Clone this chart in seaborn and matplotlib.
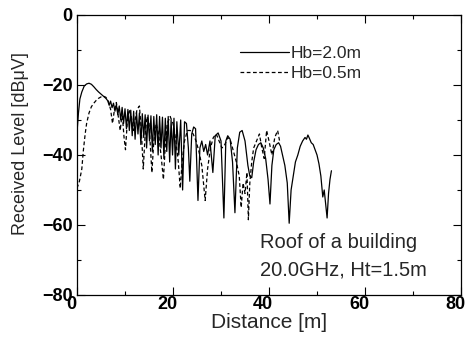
import numpy as np
import pandas as pd
import matplotlib
matplotlib.use("Agg")
import matplotlib.pyplot as plt
import matplotlib.transforms as mtransforms
import seaborn as sns

# ---------------------------------------------------------------
# Data
# ---------------------------------------------------------------
# Hb = 2.0 m (solid)
dist_hb20 = [0.0, 0.3, 0.6, 1.0, 1.5, 2.0, 2.5, 3.0, 3.5, 4.0, 4.5, 5.0, 5.5, 6.0,
             6.4, 6.7, 7.0, 7.3, 7.6, 7.9, 8.2, 8.5, 8.8, 9.1, 9.4, 9.7, 10.0, 10.3,
             10.6, 10.9, 11.2, 11.5, 11.8, 12.1, 12.4, 12.7, 13.0, 13.3, 13.6, 13.9,
             14.2, 14.5, 14.8, 15.1, 15.4, 15.7, 16.0, 16.3, 16.6, 16.9, 17.2, 17.5,
             17.8, 18.1, 18.4, 18.7, 19.0, 19.3, 19.6, 19.9, 20.2, 20.5, 20.8, 21.2,
             21.6, 22.0, 22.4, 22.8, 23.2, 23.5, 23.9, 24.3, 24.7, 25.2, 25.6, 26.0,
             26.4, 26.8, 27.2, 27.7, 28.3, 28.8, 29.4, 30.0, 30.6, 31.0, 31.4, 31.9,
             32.4, 32.9, 33.4, 33.9, 34.4, 35.0, 35.6, 36.0, 36.4, 36.8, 37.3, 37.8,
             38.3, 38.8, 39.3, 39.8, 40.2, 40.6, 41.0, 41.5, 42.0, 42.4, 42.8, 43.3,
             43.8, 44.2, 44.6, 45.0, 45.5, 46.0, 46.5, 47.0, 47.5, 47.8, 48.1, 48.4,
             48.8, 49.2, 49.6, 50.0, 50.4, 50.8, 51.2, 51.5, 51.8, 52.1, 52.4, 52.7,
             53.0]
level_hb20 = [-33.5, -28.0, -24.0, -22.0, -20.3, -19.7, -19.5, -19.8, -20.5, -21.3,
              -22.0, -22.6, -23.2, -23.8, -24.5, -25.8, -24.6, -26.5, -25.2, -27.5,
              -25.6, -28.5, -26.0, -30.0, -26.4, -31.0, -26.8, -32.5, -27.0, -33.0,
              -27.2, -34.5, -27.5, -35.5, -27.8, -34.0, -28.0, -37.0, -28.2, -35.0,
              -28.5, -38.0, -28.6, -36.0, -28.8, -39.0, -29.0, -37.0, -28.5, -40.0,
              -29.0, -38.0, -29.2, -41.0, -29.5, -39.0, -29.0, -42.0, -30.0, -40.0,
              -29.5, -44.0, -30.5, -40.0, -30.0, -50.0, -30.5, -31.0, -38.0, -47.5,
              -34.0, -32.0, -32.5, -53.0, -38.0, -36.0, -39.0, -37.0, -40.0, -36.0,
              -45.0, -34.5, -33.7, -36.0, -58.0, -36.0, -34.5, -35.5, -42.0, -56.5,
              -38.0, -33.5, -33.0, -36.0, -43.0, -46.0, -46.5, -42.0, -38.5, -37.0,
              -36.5, -38.0, -41.0, -47.0, -54.0, -43.0, -38.5, -37.0, -36.5, -37.5,
              -40.0, -43.0, -48.0, -59.5, -50.0, -46.5, -42.0, -40.0, -37.5, -36.0,
              -35.0, -35.5, -34.3, -35.2, -36.5, -37.0, -38.5, -40.0, -42.5, -46.0,
              -52.0, -50.0, -54.0, -58.0, -51.0, -47.0, -44.5]

# Hb = 0.5 m (dashed)
dist_hb05 = [0.0, 0.5, 1.0, 1.3, 1.7, 2.0, 2.5, 3.0, 3.5, 4.0, 4.5, 5.0, 5.5, 6.0,
             6.5, 7.0, 7.4, 7.8, 8.2, 8.6, 9.0, 9.4, 9.8, 10.1, 10.5, 10.9, 11.3,
             11.7, 12.1, 12.5, 13.0, 13.4, 13.8, 14.2, 14.6, 15.0, 15.3, 15.6, 16.0,
             16.5, 17.0, 17.5, 18.0, 18.4, 18.8, 19.4, 20.0, 20.6, 21.1, 21.5, 21.9,
             22.4, 23.0, 23.6, 24.2, 24.8, 25.4, 26.0, 26.7, 27.2, 27.8, 28.4, 29.0,
             29.6, 30.2, 30.8, 31.4, 32.0, 32.6, 33.2, 33.8, 34.2, 34.6, 35.0, 35.4,
             35.7, 36.0, 36.4, 36.8, 37.4, 38.0, 38.5, 39.0, 39.5, 40.0, 40.6, 41.2,
             41.8, 42.2]
level_hb05 = [-49.5, -47.5, -44.0, -39.0, -34.0, -31.0, -28.0, -26.2, -25.2, -24.4,
              -23.8, -23.4, -23.2, -23.5, -24.5, -27.0, -31.0, -27.0, -25.0, -29.0,
              -33.0, -28.0, -35.0, -38.5, -30.0, -27.0, -29.0, -33.0, -30.0, -27.0,
              -26.0, -33.0, -44.0, -34.0, -29.0, -31.0, -38.0, -45.0, -36.0, -31.0,
              -34.0, -40.0, -47.0, -37.0, -31.0, -29.0, -31.0, -36.0, -42.0, -49.5,
              -42.0, -36.0, -33.0, -33.0, -34.0, -36.0, -39.0, -43.0, -53.0, -44.0,
              -38.0, -35.0, -34.0, -36.0, -38.0, -37.0, -35.0, -36.0, -39.0, -42.0,
              -46.0, -55.0, -48.0, -51.0, -45.0, -58.5, -48.0, -42.0, -38.0, -36.0,
              -34.0, -38.0, -41.0, -33.0, -36.0, -40.0, -35.0, -33.0, -36.0]

df_20 = pd.DataFrame({"Distance": dist_hb20, "Level": level_hb20})
df_05 = pd.DataFrame({"Distance": dist_hb05, "Level": level_hb05})

# ---------------------------------------------------------------
# Plot
# ---------------------------------------------------------------
sns.set_theme(style="ticks")
plt.rcParams['font.family'] = ['Liberation Sans', 'DejaVu Sans']
plt.rcParams['axes.unicode_minus'] = True

fig = plt.figure(figsize=(4.67, 3.47), dpi=100)
ax = fig.add_axes([0.1649, 0.1499, 0.8223, 0.8069])

sns.lineplot(data=df_20, x="Distance", y="Level", ax=ax, color="black",
             linewidth=0.9, sort=False, estimator=None, label="Hb=2.0m")
sns.lineplot(data=df_05, x="Distance", y="Level", ax=ax, color="black",
             linewidth=0.9, sort=False, estimator=None, label="Hb=0.5m",
             linestyle=(0, (3, 2)))

ax.set_xlim(0, 80)
ax.set_ylim(-80, 0)
ax.set_xticks([0, 20, 40, 60, 80])
ax.set_yticks([-80, -60, -40, -20, 0])
ax.set_xticks([10, 30, 50, 70], minor=True)
ax.set_yticks([-70, -50, -30, -10], minor=True)
ax.tick_params(which="both", direction="in", top=True, right=True,
               labelsize=13, width=0.8, colors="black")
ax.tick_params(axis="x", pad=1)
ax.tick_params(axis="y", pad=3)
ax.tick_params(which="major", length=6)
ax.tick_params(which="minor", length=3)

# x tick labels sit a few pixels left of their ticks in the reference
shift = mtransforms.ScaledTranslation(-6 / 100, 0, fig.dpi_scale_trans)
for lbl in ax.get_xticklabels():
    lbl.set_transform(lbl.get_transform() + shift)
for lbl in ax.get_xticklabels() + ax.get_yticklabels():
    lbl.set_fontweight("bold")
for s in ax.spines.values():
    s.set_linewidth(0.9)
    s.set_color("black")

ax.set_xlabel("Distance [m]", fontsize=15, labelpad=-0.5)
ax.set_ylabel("Received Level [dBμV]", fontsize=13)
ax.yaxis.set_label_coords(-0.125, 0.54)

leg = ax.legend(loc="upper left", bbox_to_anchor=(0.385, 0.945), frameon=False,
                fontsize=12.5, handlelength=2.8, handletextpad=0.1,
                labelspacing=0.25)

ax.text(38.1, -65.1, "Roof of a building", fontsize=14.5, va="center", ha="left")
ax.text(38.1, -72.9, "20.0GHz, Ht=1.5m", fontsize=14.5, va="center", ha="left")

fig.savefig("out.png", dpi=100)
